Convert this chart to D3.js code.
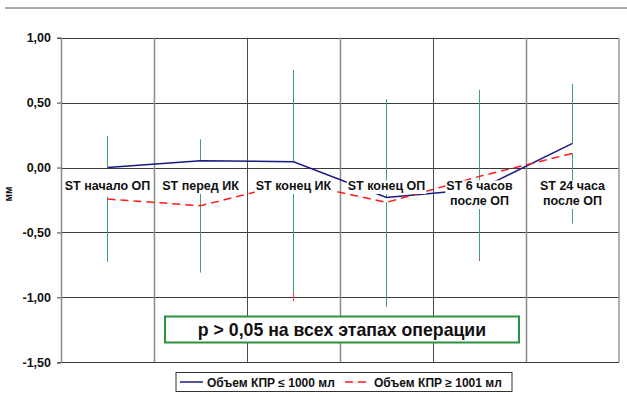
<!DOCTYPE html>
<html><head><meta charset="utf-8">
<script src="https://cdn.jsdelivr.net/npm/d3@7"></script>
<style>
body{margin:0;background:#fff;}
svg text{font-family:Arial,"Liberation Sans",sans-serif;font-weight:bold;}
</style></head>
<body><svg id="c" width="627" height="401"></svg>
<script>
const categories = [["ST начало ОП"],["ST перед ИК"],["ST конец ИК"],["ST конец ОП"],["ST 6 часов","после ОП"],["ST 24 часа","после ОП"]];
const seriesNames = ["Объем КПР ≤ 1000 мл","Объем КПР ≥ 1001 мл"];
const blueValues = [0.00, 0.052, 0.045, -0.23, -0.166, 0.186];
const redValues = [-0.243, -0.294, -0.115, -0.268, -0.068, 0.109];
const errHigh = [0.243, 0.217, 0.751, 0.525, 0.597, 0.643];
const errLowTop = [-0.225, -0.20, -0.115, -0.268, -0.068, 0.109];
const errLow = [-0.725, -0.807, -0.955, -1.072, -0.70, -0.43];
const redErrLow = [-0.725, -0.807, -1.03, -1.072, -0.72, -0.43];
const yTicks = [1.0, 0.5, 0.0, -0.5, -1.0, -1.5];
const note = "p > 0,05 на всех этапах операции";
const yLabel = "мм";

const svg = d3.select("#c");
const L = 61, T = 37.7, R = 619, B = 362.3;
const x = d3.scaleBand().domain(d3.range(categories.length)).range([L, R]).padding(0);
const y = d3.scaleLinear().domain([-1.5, 1.0]).range([B, T]);
const cx = i => x(i) + x.bandwidth() / 2;
const fmt = v => d3.format(".2f")(v).replace(".", ",").replace("−", "-");

// top page rule
svg.append("line").attr("x1", 5).attr("x2", 627).attr("y1", 8).attr("y2", 8).attr("stroke", "#555").attr("stroke-width", 1);

// horizontal grid
svg.append("g").selectAll("line").data(yTicks).join("line")
  .attr("x1", L).attr("x2", R).attr("y1", d => Math.round(y(d)) + 0.5).attr("y2", d => Math.round(y(d)) + 0.5)
  .attr("stroke", "#3a3a3a").attr("stroke-width", 1);
// vertical grid
svg.append("g").selectAll("line").data(d3.range(1, categories.length)).join("line")
  .attr("x1", d => Math.round(x(d)) + 0.5).attr("x2", d => Math.round(x(d)) + 0.5).attr("y1", T).attr("y2", B)
  .attr("stroke", (d, i) => i % 2 === 0 ? "#8a8a8a" : "#4a4a4a").attr("stroke-width", (d, i) => i % 2 === 0 ? 1.5 : 1);
// right border
svg.append("line").attr("x1", R).attr("x2", R).attr("y1", T).attr("y2", B).attr("stroke", "#999").attr("stroke-width", 1.5);

// y axis
const yAxis = d3.axisLeft(y).tickValues(yTicks).tickSize(4).tickFormat(fmt);
const ga = svg.append("g").attr("transform", `translate(${L},0)`).call(yAxis);
ga.select(".domain").attr("stroke", "#8a8a8a").attr("stroke-width", 1.5);
ga.selectAll(".tick line").attr("stroke", "#444");
ga.selectAll(".tick text").attr("font-size", 12.5).attr("fill", "#111").attr("x", -10)
  .attr("font-family", 'Arial,"Liberation Sans",sans-serif').attr("font-weight", "bold");

svg.append("text").attr("transform", "translate(12,194) rotate(-90)").attr("text-anchor", "middle")
  .attr("font-size", 10).attr("fill", "#111").text(yLabel);

// error bars
const idx = d3.range(categories.length);
svg.append("g").selectAll("line").data(idx).join("line")
  .attr("x1", d => cx(d)).attr("x2", d => cx(d)).attr("y1", d => y(redValues[d])).attr("y2", d => y(redErrLow[d]))
  .attr("stroke", "#ff4040").attr("stroke-width", 1);
svg.append("g").selectAll("line").data(idx).join("line")
  .attr("x1", d => cx(d)).attr("x2", d => cx(d)).attr("y1", d => y(errLowTop[d])).attr("y2", d => y(errLow[d]))
  .attr("stroke", "#3aa36a").attr("stroke-width", 1);
svg.append("g").selectAll("line").data(idx).join("line")
  .attr("x1", d => cx(d)).attr("x2", d => cx(d)).attr("y1", d => y(errHigh[d])).attr("y2", d => y(blueValues[d]))
  .attr("stroke", "#3aa36a").attr("stroke-width", 1);

// lines
const line = d3.line().x((d, i) => cx(i)).y(d => y(d));
svg.append("path").datum(blueValues).attr("d", line).attr("fill", "none").attr("stroke", "#1a1a80").attr("stroke-width", 1.5);
svg.append("path").datum(redValues).attr("d", line).attr("fill", "none").attr("stroke", "#ff1a1a").attr("stroke-width", 1.5).attr("stroke-dasharray", "8,5");

// category labels with tight white backgrounds
const lg = svg.append("g");
categories.forEach((lines, i) => {
  const g = lg.append("g");
  const t = g.append("text").attr("text-anchor", "middle").attr("font-size", 12.5).attr("fill", "#111");
  lines.forEach((s, k) => t.append("tspan").attr("x", cx(i)).attr("y", 190 + k * 15).text(s));
  const bb = t.node().getBBox();
  const top = 180.5, bottom = 190 + (lines.length - 1) * 15 + 4;
  g.insert("rect", "text").attr("x", bb.x - 1).attr("y", top).attr("width", bb.width + 2).attr("height", bottom - top).attr("fill", "#fff");
});

// note box
svg.append("rect").attr("x", 165).attr("y", 316.5).attr("width", 354).attr("height", 26).attr("fill", "#fff")
  .attr("stroke", "#2a9140").attr("stroke-width", 2);
svg.append("text").attr("x", 342).attr("y", 336).attr("text-anchor", "middle").attr("font-size", 17.7).attr("fill", "#111").text(note);

// legend
svg.append("rect").attr("x", 176).attr("y", 372.5).attr("width", 336).attr("height", 19).attr("fill", "#fff").attr("stroke", "#333").attr("stroke-width", 1);
svg.append("line").attr("x1", 180).attr("x2", 203).attr("y1", 382).attr("y2", 382).attr("stroke", "#1a1a80").attr("stroke-width", 1.5);
svg.append("text").attr("x", 207).attr("y", 386.5).attr("font-size", 12).attr("fill", "#111").text(seriesNames[0]);
svg.append("line").attr("x1", 345).attr("x2", 369).attr("y1", 382).attr("y2", 382).attr("stroke", "#ff1a1a").attr("stroke-width", 1.5).attr("stroke-dasharray", "8,5");
svg.append("text").attr("x", 374).attr("y", 386.5).attr("font-size", 12).attr("fill", "#111").text(seriesNames[1]);
</script></body></html>
